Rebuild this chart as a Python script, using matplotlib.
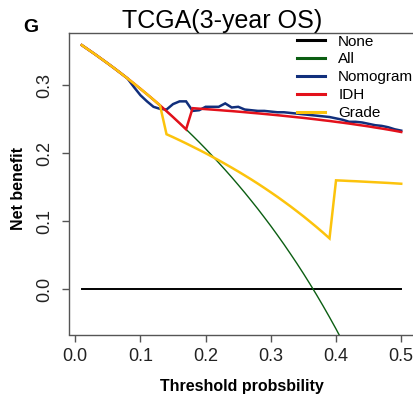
import matplotlib
matplotlib.use("Agg")
import matplotlib.pyplot as plt

plt.rcParams['font.family'] = ['Liberation Sans', 'DejaVu Sans']

# Decision-curve data, thresholds 0.01 .. 0.50
threshold = [round(0.01 * i, 2) for i in range(1, 51)]

net_none = [0.0] * 50

net_all = [0.3586, 0.3520, 0.3454, 0.3385, 0.3316, 0.3245, 0.3172, 0.3098, 0.3022, 0.2944,
           0.2865, 0.2784, 0.2701, 0.2616, 0.2529, 0.2440, 0.2349, 0.2256, 0.2161, 0.2063,
           0.1962, 0.1859, 0.1753, 0.1645, 0.1533, 0.1419, 0.1301, 0.1181, 0.1056, 0.0929,
           0.0797, 0.0662, 0.0522, 0.0379, 0.0231, 0.0078, -0.0079, -0.0242, -0.0410, -0.0583,
           -0.0763, -0.0948, -0.1140, -0.1339, -0.1546, -0.1759, -0.1981, -0.2212, -0.2451, -0.2700]

net_nomogram = [0.3586, 0.3520, 0.3454, 0.3385, 0.3316, 0.3245, 0.3172, 0.3098, 0.297, 0.285,
                0.276, 0.268, 0.265, 0.264, 0.272, 0.276, 0.276, 0.262, 0.263, 0.268,
                0.268, 0.268, 0.273, 0.267, 0.268, 0.264, 0.263, 0.262, 0.262, 0.261,
                0.260, 0.260, 0.259, 0.258, 0.257, 0.256, 0.255, 0.254, 0.253, 0.251,
                0.249, 0.246, 0.246, 0.245, 0.243, 0.241, 0.240, 0.238, 0.235, 0.233]

net_idh = [0.3586, 0.3520, 0.3454, 0.3385, 0.3316, 0.3245, 0.3172, 0.3098, 0.3022, 0.2944,
           0.2865, 0.2784, 0.2701, 0.2616, 0.2529, 0.2440, 0.2349, 0.2660, 0.2653, 0.2646,
           0.2639, 0.2632, 0.2624, 0.2617, 0.2609, 0.2601, 0.2592, 0.2584, 0.2575, 0.2566,
           0.2557, 0.2547, 0.2537, 0.2527, 0.2517, 0.2506, 0.2495, 0.2483, 0.2472, 0.2459,
           0.2447, 0.2434, 0.2420, 0.2406, 0.2392, 0.2376, 0.2361, 0.2345, 0.2328, 0.2310]

net_grade = [0.3586, 0.3520, 0.3454, 0.3385, 0.3316, 0.3245, 0.3172, 0.3098, 0.3022, 0.2944,
             0.2865, 0.2784, 0.2701, 0.2277, 0.2234, 0.2189, 0.2143, 0.2095, 0.2047, 0.1998,
             0.1947, 0.1895, 0.1841, 0.1786, 0.1730, 0.1672, 0.1613, 0.1552, 0.1489, 0.1424,
             0.1358, 0.1289, 0.1219, 0.1146, 0.1072, 0.0994, 0.0915, 0.0833, 0.0748, 0.1600,
             0.1596, 0.1591, 0.1587, 0.1582, 0.1577, 0.1572, 0.1567, 0.1562, 0.1556, 0.1550]

series_names = ["None", "All", "Nomogram", "IDH", "Grade"]
series_colors = ["#000000", "#0b5e12", "#112f7c", "#e3111b", "#fcc30c"]
series_widths = [1.4, 1.0, 1.8, 1.8, 1.8]

x_ticks = [0.0, 0.1, 0.2, 0.3, 0.4, 0.5]
x_tick_labels = ["0.0", "0.1", "0.2", "0.3", "0.4", "0.5"]
y_ticks = [0.0, 0.1, 0.2, 0.3]
y_tick_labels = ["0.0", "0.1", "0.2", "0.3"]

W, H = 414, 395
fig = plt.figure(figsize=(W / 100, H / 100), dpi=100)
ax_l, ax_r, ax_t, ax_b = 69, 414, 33, 334.5
ax = fig.add_axes([ax_l / W, (H - ax_b) / H, (ax_r - ax_l) / W, (ax_b - ax_t) / H])

all_series = [net_none, net_all, net_nomogram, net_idh, net_grade]
for vals, name, col, lw in zip(all_series, series_names, series_colors, series_widths):
    ax.plot(threshold, vals, color=col, lw=lw, label=name, solid_joinstyle='miter')

ax.set_xlim(-0.0096, 0.5196)
ax.set_ylim(-0.0664, 0.3764)

ax.set_xticks(x_ticks)
ax.set_xticklabels(x_tick_labels)
ax.set_yticks(y_ticks)
ax.set_yticklabels(y_tick_labels, rotation=90, va='center')

spine_col = "#555555"
for s in ax.spines.values():
    s.set_color(spine_col)
    s.set_linewidth(1.0)
ax.tick_params(axis='both', direction='out', length=5, width=1.0, color=spine_col,
               labelsize=13, labelcolor="#222222")
ax.tick_params(axis='x', pad=5)
ax.tick_params(axis='y', pad=6)

ax.set_xlabel("Threshold probsbility", fontsize=11.5, fontweight='bold', va='center')
ax.xaxis.set_label_coords(0.5, (ax_b - 387) / (ax_b - ax_t))
ax.set_ylabel("Net benefit", fontsize=11.5, fontweight='bold', va='center')
ax.yaxis.set_label_coords((19 - ax_l) / (ax_r - ax_l), (ax_b - 189) / (ax_b - ax_t))

fig.text(222 / W, 1 - 28 / H, "TCGA(3-year OS)", fontsize=18, ha='center', va='baseline')
fig.text(23 / W, 1 - 32 / H, "G", fontsize=14, fontweight='bold', ha='left', va='baseline')

leg = ax.legend(loc='upper left', bbox_to_anchor=(297 / W, 1 - 34.5 / H),
                bbox_transform=fig.transFigure, frameon=False, fontsize=11,
                handlelength=1.85, handletextpad=0.85, labelspacing=0.26,
                borderpad=0, borderaxespad=0)
for line in leg.get_lines():
    line.set_linewidth(2.2)

fig.savefig("out.png", dpi=100)
